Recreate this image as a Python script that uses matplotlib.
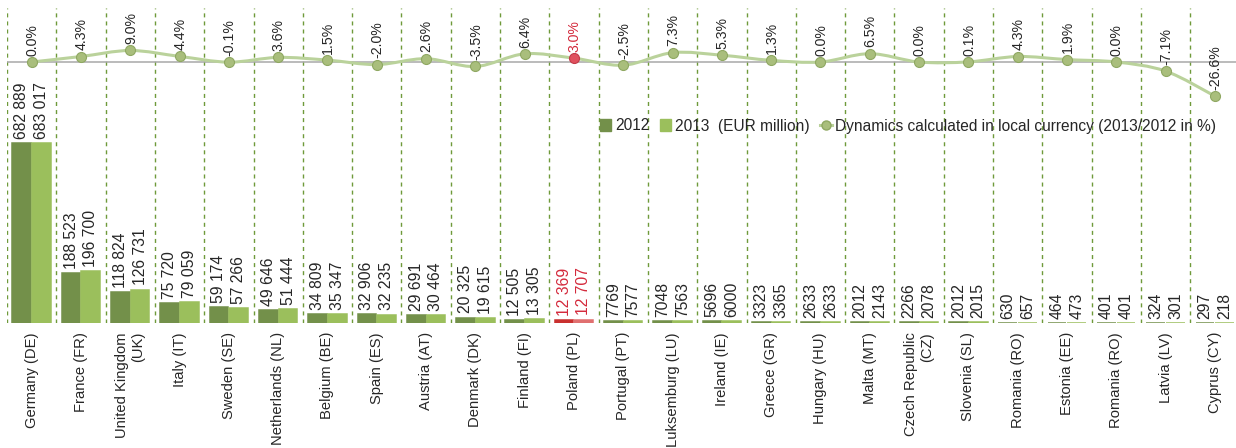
import matplotlib
matplotlib.use("Agg")
import matplotlib.pyplot as plt
from matplotlib.path import Path
from matplotlib.patches import PathPatch, Patch
from matplotlib.lines import Line2D

plt.rcParams['font.family'] = ['Liberation Sans', 'DejaVu Sans']

countries = ["Germany (DE)", "France (FR)", "United Kingdom\n(UK)", "Italy (IT)",
             "Sweden (SE)", "Netherlands (NL)", "Belgium (BE)", "Spain (ES)",
             "Austria (AT)", "Denmark (DK)", "Finland (FI)", "Poland (PL)",
             "Portugal (PT)", "Luksemburg (LU)", "Ireland (IE)", "Greece (GR)",
             "Hungary (HU)", "Malta (MT)", "Czech Republic\n(CZ)", "Slovenia (SL)",
             "Romania (RO)", "Estonia (EE)", "Romania (RO)", "Latvia (LV)", "Cyprus (CY)"]
vals_2012 = [682889, 188523, 118824, 75720, 59174, 49646, 34809, 32906, 29691, 20325,
             12505, 12369, 7769, 7048, 5696, 3323, 2633, 2012, 2266, 2012,
             630, 464, 401, 324, 297]
vals_2013 = [683017, 196700, 126731, 79059, 57266, 51444, 35347, 32235, 30464, 19615,
             13305, 12707, 7577, 7563, 6000, 3365, 2633, 2143, 2078, 2015,
             657, 473, 401, 301, 218]
dynamics = [0.0, 4.3, 9.0, 4.4, -0.1, 3.6, 1.5, -2.0, 2.6, -3.5,
            6.4, 3.0, -2.5, 7.3, 5.3, 1.3, 0.0, 6.5, 0.0, 0.1,
            4.3, 1.9, 0.0, -7.1, -26.6]
highlight = "Poland (PL)"

C12 = "#73904a"
C13 = "#9bbf5c"
RED12 = "#c9302f"
RED13 = "#e07070"
RED_TXT = "#d42a3c"
LINE_C = "#bad29b"
TXT = "#262626"


def fmt(v):
    return f"{v:,}".replace(",", " ") if v >= 10000 else str(v)


n = len(countries)
x = list(range(n))

fig = plt.figure(figsize=(12.36, 4.48), dpi=100)
ax = fig.add_axes([7 / 1236, 125 / 448, 1232.5 / 1236, 315 / 448])
ax2 = ax.twinx()

# bars, with Poland picked out in red
for i in x:
    red = countries[i] == highlight
    c12 = RED12 if red else C12
    c13 = RED13 if red else C13
    ax.bar(i - 0.2, vals_2012[i], width=0.38, color=c12, edgecolor=c12, lw=1.1, zorder=3)
    ax.bar(i + 0.2, vals_2013[i], width=0.38, color=c13, edgecolor=c13, lw=1.1, zorder=3)
    tc = RED_TXT if red else TXT
    for dx, v in ((-0.2, vals_2012[i]), (0.2, vals_2013[i])):
        ax.annotate(fmt(v), (i + dx, v), xytext=(0, 3), textcoords="offset points",
                    rotation=90, ha="center", va="bottom", fontsize=11.3, color=tc)

# dashed separators between countries
for i in x:
    ax.axvline(i - 0.5, color="#6f9a3a", lw=1.0, ls=(0, (2.9, 2.9)), zorder=1)

ax.set_xlim(-0.5, n - 0.5)
ax.set_ylim(0, 1195000)
ax.set_xticks(x)
ax.set_xticklabels(countries, rotation=90, fontsize=10.6, color=TXT)
for lab in ax.get_xticklabels():
    lab.set_multialignment("right")
ax.tick_params(axis="x", length=0, pad=6.5)
ax.set_yticks([])
for a in (ax, ax2):
    for s in a.spines.values():
        s.set_visible(False)

# smoothed dynamics line (Catmull-Rom as cubic Bezier segments)
ax2.axhline(0, color="#a8a8a8", lw=1.1, zorder=2)
pts = list(zip(x, dynamics))
verts = [pts[0]]
codes = [Path.MOVETO]
for i in range(n - 1):
    p0 = pts[i - 1] if i > 0 else pts[i]
    p1 = pts[i]
    p2 = pts[i + 1]
    p3 = pts[i + 2] if i + 2 < n else pts[i + 1]
    c1 = (p1[0] + (p2[0] - p0[0]) / 6, p1[1] + (p2[1] - p0[1]) / 6)
    c2 = (p2[0] - (p3[0] - p1[0]) / 6, p2[1] - (p3[1] - p1[1]) / 6)
    verts += [c1, c2, p2]
    codes += [Path.CURVE4] * 3
ax2.add_patch(PathPatch(Path(verts, codes), fill=False, edgecolor=LINE_C, lw=2.2,
                        capstyle="round", zorder=4))
for i in x:
    red = countries[i] == highlight
    ax2.plot(i, dynamics[i], "o", ms=7.2, mfc="#e0505e" if red else "#a9be7c",
             mec="#c23a48" if red else "#8fa862", mew=0.8, zorder=5)
    ax2.annotate(f"{dynamics[i]:.1f}%", (i, dynamics[i]), xytext=(0.5, 4.5),
                 textcoords="offset points", rotation=90, ha="center", va="bottom",
                 fontsize=10.2, color=RED_TXT if red else TXT)
ax2.set_ylim(-203.9, 42.2)
ax2.set_yticks([])

handles = [Patch(color=C12), Patch(color=C13),
           Line2D([], [], color=LINE_C, lw=2.2, marker="o", ms=6.5,
                  mfc="#a9be7c", mec="#8fa862")]
labels = ["2012", "2013  (EUR million)",
          "Dynamics calculated in local currency (2013/2012 in %)"]
fig.legend(handles, labels, loc="center", bbox_to_anchor=(908 / 1236, 1 - 126 / 448),
           ncol=3, frameon=False, fontsize=11.2, handlelength=0.75, handleheight=0.75,
           handletextpad=0.25, columnspacing=0.65, borderpad=0, labelcolor=TXT)

fig.savefig("out.png", dpi=100)
